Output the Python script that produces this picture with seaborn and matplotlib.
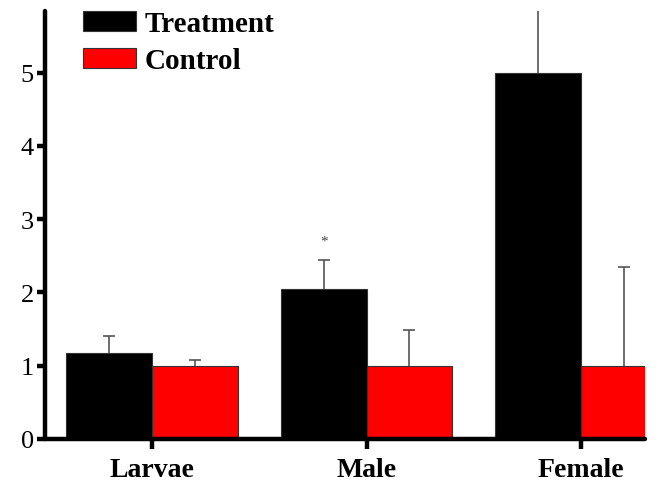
import matplotlib
matplotlib.use("Agg")
import matplotlib.pyplot as plt
import seaborn as sns
import pandas as pd
import numpy as np

# Relative expression by life stage
stages = ["Larvae", "Male", "Female"]
groups = ["Treatment", "Control"]
treatment_mean = [1.18, 2.05, 5.0]
control_mean = [1.0, 1.0, 1.0]
treatment_err = [0.22, 0.40, 1.6]
control_err = [0.08, 0.49, 1.35]
y_ticks = [0, 1, 2, 3, 4, 5]

df = pd.DataFrame({
    "stage": stages * 2,
    "group": [groups[0]] * 3 + [groups[1]] * 3,
    "value": treatment_mean + control_mean,
})

sns.set_style("white")
plt.rcParams["font.family"] = ["Liberation Serif", "DejaVu Serif"]
plt.rcParams["text.color"] = "black"
plt.rcParams["xtick.color"] = "black"
plt.rcParams["ytick.color"] = "black"
plt.rcParams["xtick.labelcolor"] = "black"
plt.rcParams["ytick.labelcolor"] = "black"

fig = plt.figure(figsize=(6.57, 4.85), dpi=100)
ax = fig.add_axes([0.0685, 0.0928, 0.9135, 0.882])

sns.barplot(data=df, x="stage", y="value", hue="group", order=stages,
            hue_order=groups, palette={"Treatment": "#000000", "Control": "#ff0000"},
            errorbar=None, width=0.8, edgecolor="#333333", linewidth=0.8,
            saturation=1, ax=ax)

# Upper-only error bars placed on the drawn bars
bars = [p for p in ax.patches if p.get_height() > 0][:6]
errs = treatment_err + control_err
cap = 0.028
for bar, e in zip(bars, errs):
    xc = bar.get_x() + bar.get_width() / 2
    h = bar.get_height()
    ax.vlines(xc, h, h + e, colors="#555555", linewidth=1.2, zorder=3)
    ax.hlines(h + e, xc - cap, xc + cap, colors="#555555", linewidth=1.2, zorder=3)

# Significance mark above the male treatment bar
male_bar = bars[1]
ax.text(male_bar.get_x() + male_bar.get_width() / 2, 2.62, "*",
        ha="center", va="bottom", fontsize=11, color="#444444")

ax.set_xlim(-0.5, 2.30)
ax.set_ylim(0, 5.84)
ax.set_yticks(y_ticks)
ax.set_xlabel("")
ax.set_ylabel("")

for side in ["top", "right"]:
    ax.spines[side].set_visible(False)
for side in ["left", "bottom"]:
    ax.spines[side].set_linewidth(3.2)
    ax.spines[side].set_color("black")
    ax.spines[side].set_capstyle("round")

ax.tick_params(axis="y", direction="out", length=6, width=3.2, labelsize=19,
               left=True, pad=2, color="black", labelcolor="black")
ax.tick_params(axis="x", direction="out", length=7, width=3.2, labelsize=20,
               bottom=True, pad=6, color="black", labelcolor="black")
for lbl in ax.get_xticklabels():
    lbl.set_fontweight("bold")

leg = ax.legend(loc="upper left", bbox_to_anchor=(0.044, 1.03), frameon=False,
                prop={"weight": "bold", "size": 21}, handlelength=1.8,
                handleheight=0.7, handletextpad=0.3, labelspacing=0.35,
                borderaxespad=0)
for h in leg.legend_handles:
    h.set_edgecolor("#333333")
    h.set_linewidth(0.8)
for t in leg.get_texts():
    t.set_color("black")

fig.savefig("out.png", dpi=100, facecolor="white")
